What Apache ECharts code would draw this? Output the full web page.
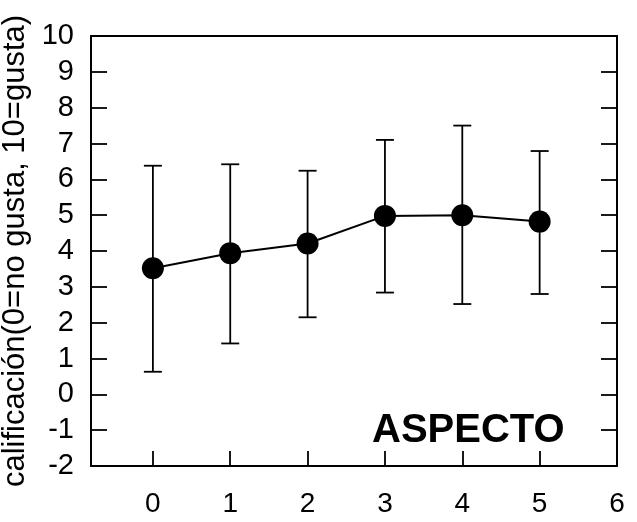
<!DOCTYPE html>
<html>
<head>
<meta charset="utf-8">
<script src="https://cdn.jsdelivr.net/npm/echarts@6/dist/echarts.min.js"></script>
<style>
    html, body { margin: 0; padding: 0; background: #fff; }
    #main { width: 637px; height: 522px; }
</style>
</head>
<body>
<div id="main"></div>
<script>
// valores
var xVals = [0, 1, 2, 3, 4, 5];
var means = [3.52, 3.94, 4.21, 4.98, 5.0, 4.82];
var lowVals = [0.63, 1.42, 2.15, 2.84, 2.52, 2.80];
var highVals = [6.38, 6.42, 6.24, 7.10, 7.50, 6.79];
var xTicks = [0, 1, 2, 3, 4, 5, 6];
var yName = 'calificación(0=no gusta, 10=gusta)';
var labelText = 'ASPECTO';

var fontName = 'Liberation Sans';

window.onload = function () {
    var chart = echarts.init(document.getElementById('main'));

    var lineData = [];
    var errData = [];
    for (var i = 0; i < xVals.length; i++) {
        lineData.push([xVals[i], means[i]]);
        errData.push([xVals[i], lowVals[i], highVals[i]]);
    }

    function renderErr(params, api) {
        var x = api.value(0);
        var top = api.coord([x, api.value(2)]);
        var bot = api.coord([x, api.value(1)]);
        var w = 9;
        var st = {stroke: '#000', lineWidth: 1.8};
        return {
            type: 'group',
            children: [
                {type: 'line', shape: {x1: top[0], y1: top[1], x2: bot[0], y2: bot[1]}, style: st},
                {type: 'line', shape: {x1: top[0] - w, y1: top[1], x2: top[0] + w, y2: top[1]}, style: st},
                {type: 'line', shape: {x1: bot[0] - w, y1: bot[1], x2: bot[0] + w, y2: bot[1]}, style: st}
            ]
        };
    }

    var axisLineStyle = {color: '#000', width: 2};

    var option = {
        backgroundColor: '#fff',
        animation: false,
        textStyle: {fontFamily: fontName},
        grid: {left: 91, right: 20, top: 36, bottom: 56, outerBoundsMode: 'none'},
        xAxis: [
            {
                type: 'value',
                min: -0.8,
                max: 6,
                axisLine: {show: true, onZero: false, lineStyle: axisLineStyle},
                axisTick: {show: true, inside: true, length: 15, customValues: xTicks, lineStyle: {color: '#000', width: 1.8}},
                axisLabel: {customValues: xTicks, color: '#000', fontSize: 28, fontFamily: fontName, margin: 24},
                splitLine: {show: false}
            },
            {
                type: 'value',
                position: 'top',
                min: -0.8,
                max: 6,
                axisLine: {show: true, onZero: false, lineStyle: axisLineStyle},
                axisTick: {show: false},
                axisLabel: {show: false},
                splitLine: {show: false}
            }
        ],
        yAxis: [
            {
                type: 'value',
                min: -2,
                max: 10,
                interval: 1,
                name: yName,
                nameLocation: 'middle',
                nameGap: 54,
                nameTextStyle: {color: '#000', fontSize: 31, fontFamily: fontName},
                axisLine: {show: true, onZero: false, lineStyle: axisLineStyle},
                axisTick: {show: true, inside: true, length: 16, lineStyle: {color: '#000', width: 1.8}},
                axisLabel: {color: '#000', fontSize: 29, fontFamily: fontName, margin: 17},
                splitLine: {show: false}
            },
            {
                type: 'value',
                position: 'right',
                min: -2,
                max: 10,
                interval: 1,
                axisLine: {show: true, onZero: false, lineStyle: axisLineStyle},
                axisTick: {show: true, inside: true, length: 16, lineStyle: {color: '#000', width: 1.8}},
                axisLabel: {show: false},
                splitLine: {show: false}
            }
        ],
        graphic: [
            {
                type: 'text',
                left: 372,
                top: 411,
                style: {
                    text: labelText,
                    fill: '#000',
                    font: 'bold 40px "Liberation Sans"'
                }
            }
        ],
        series: [
            {
                type: 'custom',
                renderItem: renderErr,
                data: errData,
                encode: {x: 0, y: [1, 2]},
                z: 2
            },
            {
                type: 'line',
                data: lineData,
                symbol: 'circle',
                symbolSize: 22,
                itemStyle: {color: '#000'},
                lineStyle: {color: '#000', width: 2},
                z: 3
            }
        ]
    };

    chart.setOption(option);
};
</script>
</body>
</html>
